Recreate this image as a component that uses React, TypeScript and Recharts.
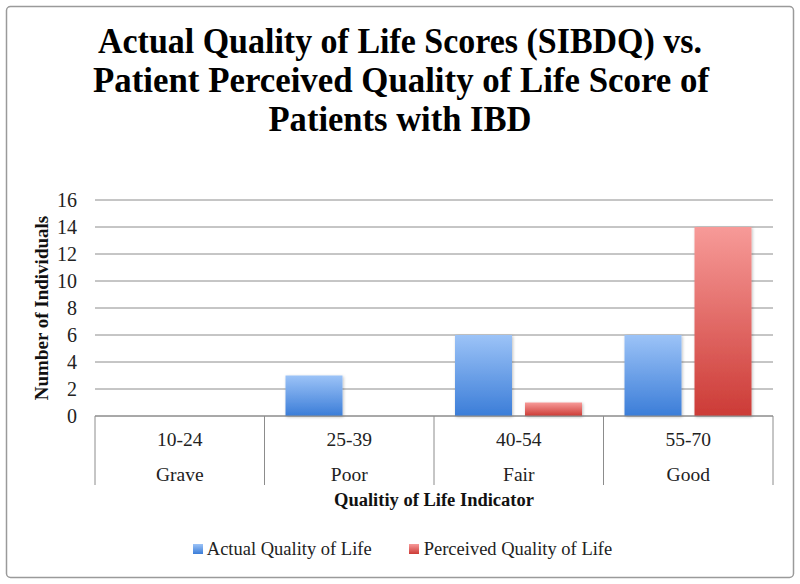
import React from "react";
import { BarChart, Bar, XAxis, YAxis, CartesianGrid, Legend, Label } from "recharts";

const ranges = ["10-24", "25-39", "40-54", "55-70"];
const levels = ["Grave", "Poor", "Fair", "Good"];
const actualValues = [0, 3, 6, 6];
const perceivedValues = [0, 0, 1, 14];
const yTicks = [0, 2, 4, 6, 8, 10, 12, 14, 16];
const titleLines = [
  "Actual Quality of Life Scores (SIBDQ) vs.",
  "Patient Perceived Quality of Life Score of",
  "Patients with IBD",
];
const seriesNames = ["Actual Quality of Life", "Perceived Quality of Life"];

const data = ranges.map((r, i) => ({
  range: r,
  level: levels[i],
  actual: actualValues[i],
  perceived: perceivedValues[i],
}));

const FONT = "'Liberation Serif', 'Times New Roman', serif";
const GRID = "#8c8c8c";

const CategoryTick = (props: any) => {
  const { x, y, payload, index, width } = props;
  const half = width ? width / ranges.length / 2 : 84.75;
  const isLast = index === ranges.length - 1;
  return (
    <g>
      <line x1={x - half} y1={y} x2={x - half} y2={y + 69} stroke={GRID} strokeWidth={1} />
      {isLast && <line x1={x + half} y1={y} x2={x + half} y2={y + 69} stroke={GRID} strokeWidth={1} />}
      <text x={x} y={y + 30} textAnchor="middle" fontFamily={FONT} fontSize={19.5} fill="#222">
        {payload.value}
      </text>
      <text x={x} y={y + 65} textAnchor="middle" fontFamily={FONT} fontSize={19.5} fill="#222">
        {levels[index]}
      </text>
    </g>
  );
};

const LegendContent = () => (
  <div
    style={{
      display: "flex",
      justifyContent: "center",
      alignItems: "center",
      height: 20,
      fontFamily: FONT,
      fontSize: 18.5,
      color: "#222",
      paddingLeft: 32,
    }}
  >
    <span style={{ display: "inline-flex", alignItems: "center", marginRight: 37 }}>
      <span
        style={{
          width: 10,
          height: 10,
          background: "linear-gradient(#9cc3f7, #3b7dd8)",
          marginRight: 4,
          display: "inline-block",
        }}
      />
      {seriesNames[0]}
    </span>
    <span style={{ display: "inline-flex", alignItems: "center" }}>
      <span
        style={{
          width: 10,
          height: 10,
          background: "linear-gradient(#f79999, #cc3b36)",
          marginRight: 5,
          display: "inline-block",
        }}
      />
      {seriesNames[1]}
    </span>
  </div>
);

export default function App() {
  return (
    <div style={{ position: "absolute", left: 0, top: 0, width: 800, height: 584, background: "#fff" }}>
      <BarChart
        width={800}
        height={584}
        data={data}
        margin={{ top: 200, right: 27, bottom: 25, left: 0 }}
        barCategoryGap={21}
        barGap={13}
      >
        <defs>
          <linearGradient id="gBlue" x1="0" y1="0" x2="0" y2="1">
            <stop offset="0%" stopColor="#9cc3f7" />
            <stop offset="100%" stopColor="#3b7dd8" />
          </linearGradient>
          <linearGradient id="gRed" x1="0" y1="0" x2="0" y2="1">
            <stop offset="0%" stopColor="#f79a98" />
            <stop offset="100%" stopColor="#cc3b36" />
          </linearGradient>
          <filter id="shadow" x="-20%" y="-20%" width="140%" height="140%">
            <feDropShadow dx="1" dy="1" stdDeviation="1.5" floodColor="#000" floodOpacity="0.25" />
          </filter>
        </defs>
        <CartesianGrid vertical={false} stroke={GRID} strokeWidth={1} />
        <XAxis
          dataKey="range"
          height={123}
          tickLine={false}
          tickSize={0}
          tickMargin={0}
          axisLine={{ stroke: GRID }}
          tick={<CategoryTick />}
          interval={0}
        >
          <Label
            content={(p: any) => {
              const vb = p.viewBox || { x: 95, y: 416, width: 678 };
              return (
                <text
                  x={vb.x + vb.width / 2}
                  y={vb.y + 90}
                  textAnchor="middle"
                  fontFamily={FONT}
                  fontWeight="bold"
                  fontSize={18.5}
                  fill="#111"
                >
                  Qualitiy of Life Indicator
                </text>
              );
            }}
          />
        </XAxis>
        <YAxis
          width={95}
          domain={[0, 16]}
          ticks={yTicks}
          interval={0}
          axisLine={false}
          tickLine={false}
          tickSize={0}
          tickMargin={18}
          tick={{ fontFamily: FONT, fontSize: 20, fill: "#222" }}
        >
          <Label
            content={(p: any) => {
              const vb = p.viewBox || { x: 0, y: 200, height: 216 };
              const cx = vb.x + 48;
              const cy = vb.y + vb.height / 2;
              return (
                <text
                  x={cx}
                  y={cy}
                  transform={`rotate(-90 ${cx} ${cy})`}
                  textAnchor="middle"
                  fontFamily={FONT}
                  fontWeight="bold"
                  fontSize={19}
                  fill="#111"
                >
                  Number of Individuals
                </text>
              );
            }}
          />
        </YAxis>
        <Legend verticalAlign="bottom" content={<LegendContent />} />
        <Bar dataKey="actual" name={seriesNames[0]} fill="url(#gBlue)" filter="url(#shadow)" isAnimationActive={false} />
        <Bar dataKey="perceived" name={seriesNames[1]} fill="url(#gRed)" filter="url(#shadow)" isAnimationActive={false} />
      </BarChart>
      <svg
        width={800}
        height={584}
        style={{ position: "absolute", left: 0, top: 0, pointerEvents: "none" }}
      >
        <rect x={6.5} y={6.5} width={787} height={571} rx={4} fill="none" stroke="#9a9a9a" strokeWidth={1.5} />
        <text x={400} y={53} textAnchor="middle" fontFamily={FONT} fontWeight="bold" fontSize={35} fill="#000" textLength={604} lengthAdjust="spacingAndGlyphs">
          {titleLines[0]}
        </text>
        <text x={401} y={92} textAnchor="middle" fontFamily={FONT} fontWeight="bold" fontSize={35} fill="#000" textLength={616} lengthAdjust="spacingAndGlyphs">
          {titleLines[1]}
        </text>
        <text x={400} y={131} textAnchor="middle" fontFamily={FONT} fontWeight="bold" fontSize={35} fill="#000" textLength={263} lengthAdjust="spacingAndGlyphs">
          {titleLines[2]}
        </text>
      </svg>
    </div>
  );
}
